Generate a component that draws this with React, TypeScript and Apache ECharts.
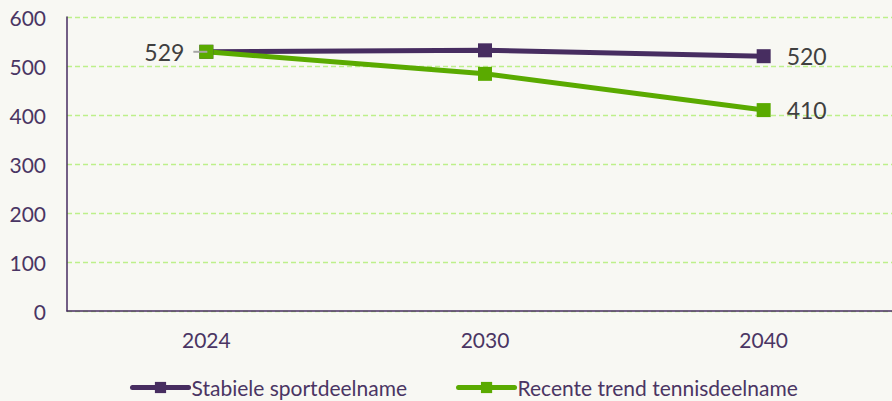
import React, { useEffect, useRef } from "react";
import * as echarts from "echarts";

const categories = ["2024", "2030", "2040"];
const stabiele = [529, 532, 520];
const tennis = [529, 484, 410];
const seriesNames = ["Stabiele sportdeelname", "Recente trend tennisdeelname"];

const PURPLE = "#472d60";
const GREEN = "#5aaa00";
const TEXT = "#4a3563";

export default function App() {
  const ref = useRef<HTMLDivElement>(null);
  useEffect(() => {
    const chart = echarts.init(ref.current!, null, { renderer: "svg" });
    chart.setOption({
      animation: false,
      backgroundColor: "#f8f8f3",
      textStyle: { fontFamily: "Lato" },
      grid: { left: 67, width: 836, top: 17, bottom: 90, outerBoundsMode: "none", containLabel: false },
      legend: {
        top: 377,
        left: 130,
        padding: 0,
        itemWidth: 56,
        itemHeight: 14,
        itemGap: 49,
        lineStyle: { width: 5, cap: "round" },
        textStyle: { color: TEXT, fontSize: 21, fontFamily: "Lato", padding: [0, 0, 0, -2] },
        data: seriesNames,
      },
      xAxis: {
        type: "category",
        data: categories,
        boundaryGap: true,
        axisLine: { lineStyle: { color: PURPLE, width: 1.5 } },
        axisTick: { show: false },
        axisLabel: { color: TEXT, fontSize: 21, margin: 18, fontFamily: "Lato" },
      },
      yAxis: {
        type: "value",
        min: 0,
        max: 600,
        interval: 100,
        axisLine: { show: true, lineStyle: { color: PURPLE, width: 1.5 } },
        axisTick: { show: false },
        axisLabel: { color: TEXT, fontSize: 21, margin: 21, fontFamily: "Lato" },
        splitLine: { lineStyle: { color: "#bdf08a", type: [5, 3], width: 1.4 } },
      },
      series: [
        {
          name: seriesNames[0],
          type: "line",
          data: stabiele.map((v, i) => ({
            value: v,
            label:
              i === stabiele.length - 1
                ? { show: true, position: "right", distance: 16, color: "#404040", fontSize: 23, fontFamily: "Lato" }
                : { show: false },
          })),
          symbol: "rect",
          symbolSize: 14,
          lineStyle: { color: PURPLE, width: 5 },
          itemStyle: { color: PURPLE },
        },
        {
          name: seriesNames[1],
          type: "line",
          z: 3,
          data: tennis.map((v, i) => {
            if (i === 0) {
              return {
                value: v,
                label: {
                  show: true,
                  position: "left",
                  distance: -8,
                  formatter: "{v|" + v + "}{g|}{l|}",
                  rich: {
                    v: { color: "#404040", fontSize: 23, fontFamily: "Lato" },
                    g: { width: 9 },
                    l: { width: 14, height: 2, backgroundColor: "#a6a6a6" },
                  },
                },
              };
            }
            if (i === tennis.length - 1) {
              return {
                value: v,
                label: { show: true, position: "right", distance: 16, color: "#404040", fontSize: 23, fontFamily: "Lato" },
              };
            }
            return { value: v, label: { show: false } };
          }),
          symbol: "rect",
          symbolSize: 14,
          lineStyle: { color: GREEN, width: 5 },
          itemStyle: { color: GREEN },
        },
      ],
    });
    return () => chart.dispose();
  }, []);
  return <div ref={ref} style={{ width: 892, height: 401, position: "absolute", left: 0, top: 0 }} />;
}
